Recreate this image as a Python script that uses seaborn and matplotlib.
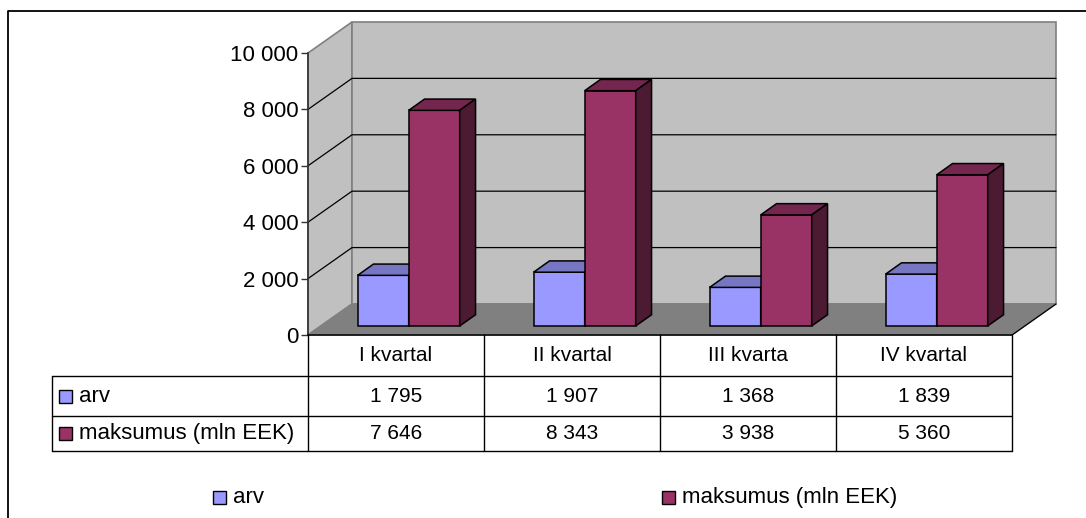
import numpy as np
import pandas as pd
import matplotlib
matplotlib.use('Agg')
import matplotlib.pyplot as plt
from matplotlib.patches import Polygon, Rectangle
import seaborn as sns

# data
quarters = ['I kvartal', 'II kvartal', 'III kvarta', 'IV kvartal']
series = ['arv', 'maksumus (mln EEK)']
arv = [1795, 1907, 1368, 1839]
maksumus = [7646, 8343, 3938, 5360]
yticks = [0, 2000, 4000, 6000, 8000, 10000]

front_colors = ['#9999FF', '#993366']
top_colors = ['#7676C2', '#74264F']
side_colors = ['#4D4D80', '#4D1A33']

df = pd.DataFrame({
    'quarter': quarters * 2,
    'series': [series[0]] * 4 + [series[1]] * 4,
    'value': arv + maksumus,
})

sns.set_style('white')
plt.rcParams['font.family'] = ['Liberation Sans', 'DejaVu Sans']
plt.rcParams['text.color'] = 'black'
plt.rcParams['ytick.labelcolor'] = 'black'

W, H = 1086, 518
fig = plt.figure(figsize=(W / 100, H / 100), dpi=100)


def fx(px):
    return px / W


def fy(py):
    return 1 - py / H


# front plane of the 3d box (pixels)
x0, x1, ytop, ybot = 308, 1012, 53, 335
ax = fig.add_axes([fx(x0), fy(ybot), fx(x1) - fx(x0), fy(ytop) - fy(ybot)])
ax.patch.set_visible(False)

sns.barplot(data=df, x='quarter', y='value', hue='series', palette=front_colors,
            width=0.58, saturation=1, edgecolor='black', linewidth=1.1,
            legend=False, ax=ax)
bars = sorted(ax.patches, key=lambda p: p.get_x())

# depth of the box and of the bars, in data units
DX, DY = 0.25, 1100
BX, BY = 0.072, 320
dd, dh = 0.09, 400

for i, p in enumerate(bars):
    s = i % 2
    p.set_x(p.get_x() + BX)
    p.set_y(BY)
    p.set_zorder(5 + 3 * i)
    p.set_clip_on(False)
    x, y, w, h = p.get_x(), p.get_y(), p.get_width(), p.get_height()
    top = Polygon([(x, y + h), (x + w, y + h), (x + w + dd, y + h + dh), (x + dd, y + h + dh)],
                  closed=True, fc=top_colors[s], ec='black', lw=1.1, zorder=6 + 3 * i, clip_on=False)
    side = Polygon([(x + w, y), (x + w, y + h), (x + w + dd, y + h + dh), (x + w + dd, y + dh)],
                   closed=True, fc=side_colors[s], ec='black', lw=1.1, zorder=6 + 3 * i, clip_on=False)
    ax.add_patch(top)
    ax.add_patch(side)

# walls and floor
left_wall = Polygon([(-0.5, 0), (-0.5, 10000), (-0.5 + DX, 10000 + DY), (-0.5 + DX, DY)],
                    closed=True, fc='#C0C0C0', ec='#808080', lw=1.2, zorder=0, clip_on=False)
back_wall = Rectangle((-0.5 + DX, DY), 4, 10000, fc='#C0C0C0', ec='#808080', lw=1.2,
                      zorder=0, clip_on=False)
floor = Polygon([(-0.5, 0), (3.5, 0), (3.5 + DX, DY), (-0.5 + DX, DY)],
                closed=True, fc='#808080', ec='#808080', lw=1.0, zorder=1, clip_on=False)
for patch in (left_wall, back_wall, floor):
    ax.add_patch(patch)
ax.plot([3.5, 3.5 + DX], [0, DY], color='black', lw=0.9, zorder=2, clip_on=False)
for t in yticks[1:-1]:
    ax.plot([-0.5, -0.5 + DX, 3.5 + DX], [t, t + DY, t + DY], color='black', lw=0.9,
            zorder=1, clip_on=False)

ax.set_xlim(-0.5, 3.5)
ax.set_ylim(0, 10000)
ax.set_xticks([])
ax.set_yticks(yticks)
ax.set_yticklabels([f'{v:,}'.replace(',', ' ') for v in yticks], fontsize=16)
ax.tick_params(axis='y', length=5, width=1, color='#333333', labelcolor='black', pad=2, left=True)
ax.set_xlabel('')
ax.set_ylabel('')
for k in ('top', 'right', 'bottom'):
    ax.spines[k].set_visible(False)
ax.spines['left'].set_color('#333333')
ax.spines['left'].set_linewidth(1.2)
ax.spines['left'].set_zorder(3)

# overlay in pixel coordinates: border, data table, legend
ov = fig.add_axes([0, 0, 1, 1], zorder=3)
ov.set_xlim(0, W)
ov.set_ylim(H, 0)
ov.axis('off')

ov.plot([8, 8, W], [H, 11, 11], color='black', lw=1.3)

cols = [x0 + i * (x1 - x0) / 4 for i in range(5)]
rows = [335, 376, 416, 451]
lab_x = 52
ov.plot([x0, x1], [rows[0], rows[0]], color='black', lw=1.1)
for r in rows[1:]:
    ov.plot([lab_x, x1], [r, r], color='black', lw=1.0)
ov.plot([lab_x, lab_x], [rows[1], rows[3]], color='black', lw=1.0)
for c in cols:
    ov.plot([c, c], [rows[0], rows[3]], color='black', lw=1.0)

for i, q in enumerate(quarters):
    cx = (cols[i] + cols[i + 1]) / 2
    ov.text(cx, (rows[0] + rows[1]) / 2, q, ha='center', va='center', fontsize=15)
    ov.text(cx, (rows[1] + rows[2]) / 2, f'{arv[i]:,}'.replace(',', ' '),
            ha='center', va='center', fontsize=15)
    ov.text(cx, (rows[2] + rows[3]) / 2, f'{maksumus[i]:,}'.replace(',', ' '),
            ha='center', va='center', fontsize=15)

for j, name in enumerate(series):
    ym = (rows[1 + j] + rows[2 + j]) / 2
    ov.add_patch(Rectangle((59, ym - 6.5), 13, 13, fc=front_colors[j], ec='black', lw=1.0))
    ov.text(79, ym, name, ha='left', va='center', fontsize=16)

leg_x = [213, 662]
for j, name in enumerate(series):
    ov.add_patch(Rectangle((leg_x[j], 491), 13, 13, fc=front_colors[j], ec='black', lw=1.0))
    ov.text(leg_x[j] + 20, 497.5, name, ha='left', va='center', fontsize=16)

fig.savefig('out.png', dpi=100)
